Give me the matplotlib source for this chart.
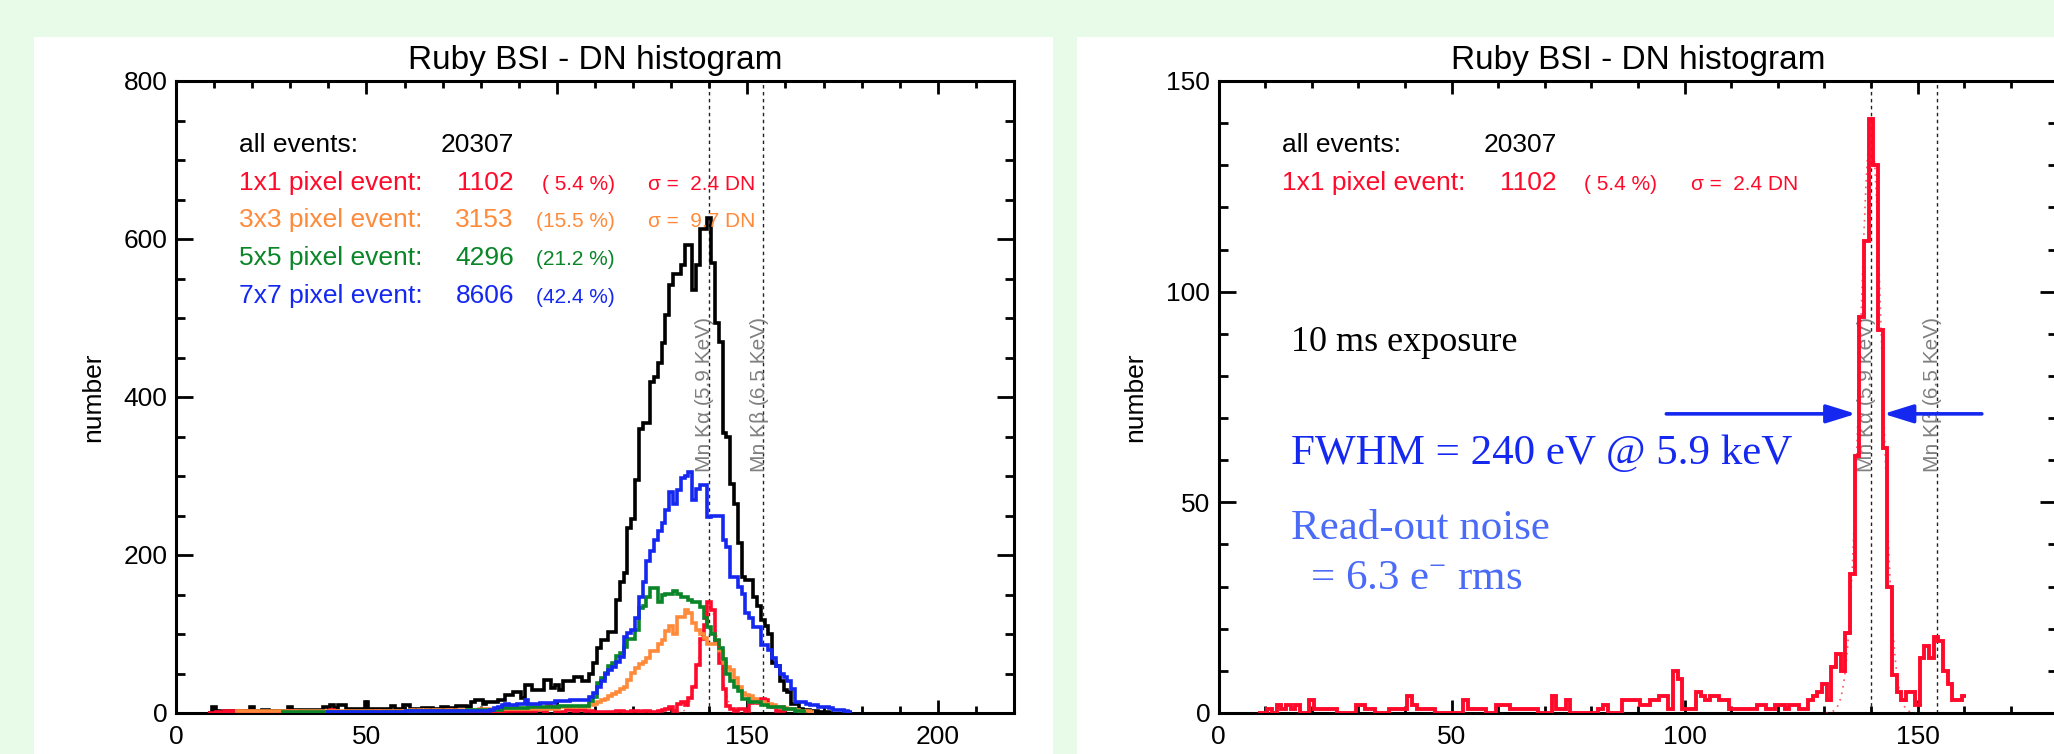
import numpy as np
import matplotlib
matplotlib.use('Agg')
import matplotlib.pyplot as plt
from matplotlib import transforms
from matplotlib.patches import Rectangle, FancyArrowPatch
from matplotlib.ticker import MultipleLocator

plt.rcParams['font.family'] = ['Liberation Sans', 'DejaVu Sans']
plt.rcParams['mathtext.fontset'] = 'custom'
plt.rcParams['mathtext.rm'] = 'Liberation Serif'
plt.rcParams['mathtext.it'] = 'Liberation Serif:italic'

# ---------------- data (counts per 1-DN bin, first bin centre given) ----------------
all_start = 9
all_counts = [0, 7, 2, 1, 2, 1, 2, 2, 2, 2, 3, 7, 3, 3, 4, 4, 3, 3, 3, 3, 3,
              7, 4, 4, 4, 4, 4, 4, 4, 4, 7, 7, 10, 6, 10, 10, 5, 5, 5, 5, 5,
              14, 5, 5, 5, 5, 5, 5, 9, 5, 5, 10, 10, 5, 5, 5, 6, 6, 6, 5, 5,
              7, 7, 6, 6, 9, 9, 9, 7, 14, 17, 17, 12, 14, 14, 14, 16, 16, 23, 23, 26,
              26, 19, 35, 35, 29, 29, 29, 42, 42, 32, 35, 29, 40, 40, 40, 46, 46, 40, 40, 50,
              63, 82, 92, 92, 103, 103, 143, 166, 177, 234, 246, 295, 360, 367, 367, 419, 425, 443, 468, 504,
              542, 556, 556, 567, 592, 592, 535, 567, 613, 613, 626, 570, 494, 470, 355, 350, 290, 265, 215, 172,
              168, 168, 147, 135, 118, 110, 100, 63, 60, 40, 29, 27, 12, 12, 5, 4, 4, 2, 2, 1,
              1, 1, 0]

px1_start = 9
px1_counts = [0, 0, 1, 0, 2, 1, 2, 1, 2, 0, 0, 3, 1, 1, 1, 1, 1, 0, 0, 0, 0,
              2, 2, 1, 1, 0, 0, 0, 1, 1, 1, 1, 4, 2, 1, 1, 1, 1, 0, 0, 0,
              0, 0, 0, 3, 1, 1, 1, 1, 0, 0, 2, 2, 2, 1, 1, 1, 1, 1, 1, 0,
              0, 0, 4, 1, 1, 3, 0, 0, 0, 0, 0, 0, 1, 2, 0, 0, 0, 3, 3, 3,
              3, 2, 2, 3, 3, 4, 4, 1, 10, 8, 1, 1, 1, 5, 4, 3, 4, 4, 3, 3,
              1, 1, 1, 1, 1, 1, 2, 2, 1, 1, 2, 2, 1, 2, 2, 1, 1, 3, 4, 5,
              7, 3, 11, 14, 10, 19, 33, 61, 94, 112, 141, 130, 91, 63, 30, 9, 5, 3, 5, 5,
              2, 13, 16, 13, 18, 17, 10, 7, 3, 3, 4]

px3_start = 16
px3_counts = [2, 2, 2, 2, 2, 2, 2, 2, 2, 2, 2, 2, 2, 3, 3, 3, 3, 3, 3, 3,
              3, 3, 3, 3, 3, 3, 3, 3, 3, 3, 3, 3, 3, 3, 3, 3, 3, 3, 3, 3,
              3, 3, 3, 3, 3, 3, 4, 3, 4, 3, 4, 3, 4, 4, 3, 4, 4, 3, 4, 4,
              3, 4, 4, 4, 5, 5, 5, 5, 5, 5, 5, 5, 5, 5, 5, 5, 5, 5, 5, 5,
              5, 5, 5, 5, 5, 7, 7, 7, 7, 7, 7, 7, 7, 10, 12, 14, 16, 18, 21, 24,
              27, 30, 33, 42, 51, 57, 62, 65, 70, 79, 79, 87, 92, 104, 110, 100, 121, 121, 130, 126,
              114, 105, 100, 95, 87, 87, 87, 78, 63, 58, 55, 44, 33, 25, 23, 21, 18, 14, 14, 12,
              12, 10, 8, 8, 6, 5, 5, 4, 3, 2, 2, 1]

px5_start = 28
px5_counts = [1] * 33 + [2] * 16 + [4] * 9 + [6] * 7 + [8] * 8 + [9] * 8 + \
             [15, 20, 38, 44, 51, 60, 63, 72, 76, 83, 94, 94, 105, 133, 135, 147, 158, 158, 140, 150,
              151, 151, 155, 151, 147, 147, 143, 140, 140, 134, 120, 109, 100, 92, 82, 68, 50, 40, 33, 28,
              18, 18, 14, 14, 14, 10, 10, 8, 8, 8, 8, 5, 5, 5, 3, 2, 1]

px7_start = 40
px7_counts = [1] * 21 + [2] * 15 + [3] * 7 + \
             [4, 6, 8, 10, 12, 10, 10, 12, 12, 17, 12, 12, 12, 13, 13, 13, 13, 15, 15, 15,
              15, 17, 17, 17, 17, 17, 20, 25, 33, 40, 50, 55, 58, 65, 71, 96, 101, 105, 120, 147,
              166, 193, 205, 219, 230, 240, 257, 280, 265, 282, 297, 300, 305, 270, 284, 288, 288, 248, 250, 250,
              250, 219, 210, 172, 172, 160, 151, 126, 120, 109, 109, 86, 86, 80, 70, 60, 50, 46, 40, 30,
              14, 14, 14, 12, 10, 10, 8, 8, 8, 6, 4, 4, 4, 2, 1]

series_names = ['all events:', '1x1 pixel event:', '3x3 pixel event:',
                '5x5 pixel event:', '7x7 pixel event:']
series_totals = ['20307', '1102', '3153', '4296', '8606']
series_percent = ['', '( 5.4 %)', '(15.5 %)', '(21.2 %)', '(42.4 %)']
series_sigma = ['', '\u03c3 =  2.4 DN', '\u03c3 =  9.7 DN', '', '']

line_energies = [140.0, 154.2]
line_labels = ['Mn K\u03b1 (5.9 KeV)', 'Mn K\u03b2 (6.5 KeV)']

fit_center = 140.0
fit_sigma = 2.4
fit_amp = 138.0

fwhm_level = 71.0
fwhm_left = [96.1, 136.8]
fwhm_right = [163.8, 142.7]

# ---------------- style ----------------
C_BLACK = '#000000'
C_RED = '#ff0a2a'
C_ORANGE = '#ff8a3a'
C_GREEN = '#0a8528'
C_BLUE = '#1428f0'
C_LBLUE = '#4a6af8'
colors = [C_BLACK, C_RED, C_ORANGE, C_GREEN, C_BLUE]

W, H = 2054, 754
fig = plt.figure(figsize=(W / 100, H / 100), dpi=100)
fig.patch.set_facecolor('#e8fbe8')

# white panels
fig.patches.append(Rectangle((34 / W, 0), (1053 - 34) / W, 1 - 37 / H,
                             transform=fig.transFigure, facecolor='white',
                             edgecolor='none', zorder=-10))
fig.patches.append(Rectangle((1077 / W, 0), (W - 1077) / W, 1 - 37 / H,
                             transform=fig.transFigure, facecolor='white',
                             edgecolor='none', zorder=-10))

ax_w = 838 / W
ax_h = (713 - 81) / H
ax_b = 1 - 713 / H
axL = fig.add_axes([176 / W, ax_b, ax_w, ax_h])
axR = fig.add_axes([1218.5 / W, ax_b, 838.8 / W, ax_h])


def edges_for(start, vals):
    return np.arange(len(vals) + 1) + start - 0.5


def style_axes(ax, xmax, ymax, ymaj, ymin):
    ax.set_facecolor('none')
    ax.set_xlim(0, xmax)
    ax.set_ylim(0, ymax)
    ax.xaxis.set_major_locator(MultipleLocator(50))
    ax.xaxis.set_minor_locator(MultipleLocator(10))
    ax.yaxis.set_major_locator(MultipleLocator(ymaj))
    ax.yaxis.set_minor_locator(MultipleLocator(ymin))
    for sp in ax.spines.values():
        sp.set_linewidth(2.2)
    ax.tick_params(which='both', direction='in', top=True, right=True,
                   width=2.0, labelsize=19, colors='black')
    ax.tick_params(axis='x', which='major', length=9.4, pad=9)
    ax.tick_params(axis='x', which='minor', length=4.8)
    ax.tick_params(axis='y', which='major', length=12.3, pad=6)
    ax.tick_params(axis='y', which='minor', length=6.2)
    ax.set_title('Ruby BSI - DN histogram', fontsize=24, pad=9)
    ax.set_ylabel('number', fontsize=19)
    ax.yaxis.set_label_coords(-0.085, 0.5)
    trans = transforms.blended_transform_factory(ax.transData, ax.transAxes)
    for e, lab in zip(line_energies, line_labels):
        ax.axvline(e, color='#222222', lw=1.0, ls=(0, (2.5, 2.5)), zorder=1)
        ax.text(e + 0.3, 0.627, lab, transform=trans, rotation=90,
                rotation_mode='anchor', ha='right', va='baseline',
                fontsize=15, color='#808080', zorder=2)


def legend_rows(ax, n):
    ys = [0.888, 0.8275, 0.7685, 0.709, 0.648]
    for i in range(n):
        c = colors[i]
        ax.text(0.0752, ys[i], series_names[i], transform=ax.transAxes,
                fontsize=19, color=c, va='baseline', ha='left')
        ax.text(0.4033, ys[i], series_totals[i], transform=ax.transAxes,
                fontsize=19, color=c, va='baseline', ha='right')
        if series_percent[i]:
            ax.text(0.5233, ys[i], series_percent[i], transform=ax.transAxes,
                    fontsize=15, color=c, va='baseline', ha='right')
        if series_sigma[i]:
            ax.text(0.5633, ys[i], series_sigma[i], transform=ax.transAxes,
                    fontsize=15, color=c, va='baseline', ha='left')


# ---------------- left panel ----------------
style_axes(axL, 220, 800, 200, 50)
hist_list = [(all_start, all_counts, C_BLACK),
             (px1_start, px1_counts, C_RED),
             (px3_start, px3_counts, C_ORANGE),
             (px5_start, px5_counts, C_GREEN),
             (px7_start, px7_counts, C_BLUE)]
for z, (st, vals, c) in enumerate(hist_list):
    axL.stairs(vals, edges_for(st, vals), baseline=None, color=c, lw=2.6,
               zorder=3 + z)
xf = np.linspace(fit_center - 4 * fit_sigma, fit_center + 4 * fit_sigma, 120)
axL.plot(xf, fit_amp * np.exp(-0.5 * ((xf - fit_center) / fit_sigma) ** 2),
         color=C_RED, lw=1.0, ls=(0, (1, 3)), alpha=0.7, zorder=9)
legend_rows(axL, 5)

# ---------------- right panel ----------------
style_axes(axR, 180, 150, 50, 10)
axR.stairs(px1_counts, edges_for(px1_start, px1_counts), baseline=None,
           color=C_RED, lw=2.8, zorder=4)
axR.plot(xf, fit_amp * np.exp(-0.5 * ((xf - fit_center) / fit_sigma) ** 2),
         color=C_RED, lw=1.2, ls=(0, (1, 3)), alpha=0.7, zorder=5)
legend_rows(axR, 2)

for (x0, x1) in [tuple(fwhm_left), tuple(fwhm_right)]:
    arr = FancyArrowPatch((x0, fwhm_level), (x1, fwhm_level),
                          arrowstyle='-|>,head_length=0.9,head_width=0.28',
                          mutation_scale=20, color=C_BLUE, lw=2.6,
                          shrinkA=0, shrinkB=0, zorder=6)
    axR.add_patch(arr)

serif = ['Liberation Serif', 'DejaVu Serif']
axR.text(0.0864, 0.573, '10 ms exposure', transform=axR.transAxes,
         fontsize=26, family=serif, color='black', va='baseline')
axR.text(0.0864, 0.394, 'FWHM = 240 eV @ 5.9 keV', transform=axR.transAxes,
         fontsize=31, family=serif, color=C_BLUE, va='baseline')
axR.text(0.0864, 0.276, 'Read-out noise', transform=axR.transAxes,
         fontsize=31, family=serif, color=C_LBLUE, va='baseline')
axR.text(0.109, 0.196, '= 6.3 e$^{-}$ rms', transform=axR.transAxes,
         fontsize=31, family=serif, color=C_LBLUE, va='baseline')

fig.savefig('out.png', dpi=100, facecolor=fig.get_facecolor())
